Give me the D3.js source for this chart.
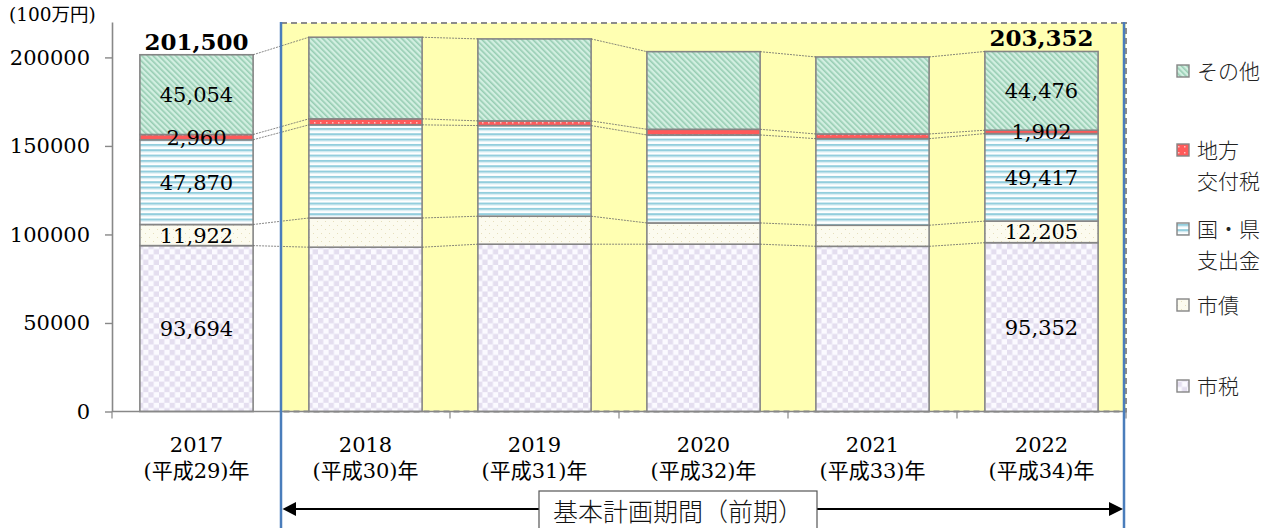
<!DOCTYPE html>
<html>
<head>
<meta charset="utf-8">
<script src="https://cdn.jsdelivr.net/npm/d3@7/dist/d3.min.js"></script>
<style>
  body { margin: 0; background: #fff; }
  svg { display: block; }
  .num { font-family: "DejaVu Serif", "Noto Sans CJK JP", serif; }
  .jp  { font-family: "Noto Sans CJK JP", sans-serif; }
</style>
</head>
<body>
<svg id="chart" width="1281" height="528"></svg>
<script>
// data (100万円)
var years   = ["2017", "2018", "2019", "2020", "2021", "2022"];
var eras    = ["(平成29)年", "(平成30)年", "(平成31)年", "(平成32)年", "(平成33)年", "(平成34)年"];
var shizei  = [93694, 92800, 94500, 94500, 93300, 95352];   // 市税
var shisai  = [11922, 16500, 15800, 12000, 11900, 12205];   // 市債
var kokken  = [47870, 52600, 51200, 49700, 48900, 49417];   // 国・県支出金
var kofuzei = [2960, 3400, 2650, 3200, 2650, 1902];         // 地方交付税
var sonota  = [45054, 46100, 46300, 43850, 43500, 44476];   // その他
var seriesKeys   = ["shizei", "shisai", "kokken", "kofuzei", "sonota"];
var legendNames  = [["市税"], ["市債"], ["国・県", "支出金"], ["地方", "交付税"], ["その他"]];
var yTicks       = [0, 50000, 100000, 150000, 200000];
var labelYears   = ["2017", "2022"];
var periodLabel  = "基本計画期間（前期）";
var unitLabel    = "(100万円)";

var table = years.map(function(y, i) {
  return { year: y, shizei: shizei[i], shisai: shisai[i], kokken: kokken[i], kofuzei: kofuzei[i], sonota: sonota[i] };
});

var svg = d3.select("#chart");

var x = d3.scaleBand().domain(years).range([112, 1126]).padding(0);
var y = d3.scaleLinear().domain([0, 220000]).range([411.5, 22]);
var bw = x.bandwidth() * 0.67;
var bOff = (x.bandwidth() - bw) / 2;

// ---- patterns
var defs = svg.append("defs");

var p = defs.append("pattern").attr("id", "pat-sonota").attr("patternUnits", "userSpaceOnUse")
  .attr("width", 4).attr("height", 4).attr("patternTransform", "rotate(-45)");
p.append("rect").attr("width", 4).attr("height", 4).attr("fill", "#d2efe1");
p.append("rect").attr("width", 1.6).attr("height", 4).attr("fill", "#97cdb3");

p = defs.append("pattern").attr("id", "pat-kofuzei").attr("patternUnits", "userSpaceOnUse")
  .attr("width", 6).attr("height", 6);
p.append("rect").attr("width", 6).attr("height", 6).attr("fill", "#ff5a5a");
p.append("rect").attr("x", 2).attr("y", 2).attr("width", 1.5).attr("height", 1.5).attr("fill", "#ffc0c0");

p = defs.append("pattern").attr("id", "pat-kokken").attr("patternUnits", "userSpaceOnUse")
  .attr("width", 6).attr("height", 5.33);
p.append("rect").attr("width", 6).attr("height", 5.33).attr("fill", "#ffffff");
p.append("rect").attr("y", 0).attr("width", 6).attr("height", 2).attr("fill", "#93cedd");
p.append("rect").attr("y", 2).attr("width", 6).attr("height", 1).attr("fill", "#c8e6ee");

p = defs.append("pattern").attr("id", "pat-shisai").attr("patternUnits", "userSpaceOnUse")
  .attr("width", 8).attr("height", 8);
p.append("rect").attr("width", 8).attr("height", 8).attr("fill", "#fcfbef");
p.append("rect").attr("x", 1).attr("y", 1).attr("width", 1).attr("height", 1).attr("fill", "#e6dfbd");
p.append("rect").attr("x", 5).attr("y", 5).attr("width", 1).attr("height", 1).attr("fill", "#e6dfbd");

p = defs.append("pattern").attr("id", "pat-shizei").attr("patternUnits", "userSpaceOnUse")
  .attr("width", 10.6).attr("height", 10.6);
p.append("rect").attr("width", 10.6).attr("height", 10.6).attr("fill", "#fbfaff");
p.append("rect").attr("width", 5.3).attr("height", 5.3).attr("fill", "#e4deef");
p.append("rect").attr("x", 5.3).attr("y", 5.3).attr("width", 5.3).attr("height", 5.3).attr("fill", "#e4deef");

// ---- highlighted period (yellow)
var px0 = x("2018"), px1 = x("2022") + x.bandwidth();
svg.append("rect")
  .attr("x", px0).attr("y", y.range()[1] + 1)
  .attr("width", px1 - px0).attr("height", y(0) - y.range()[1] - 1)
  .attr("fill", "#ffffb2")
  .attr("stroke", "#8c8c8c").attr("stroke-width", 2).attr("stroke-dasharray", "6,4");

// ---- stacked bars
var stack = d3.stack().keys(seriesKeys)(table);

var layers = svg.append("g").selectAll("g").data(stack).enter().append("g")
  .attr("fill", function(d) { return "url(#pat-" + d.key + ")"; });

layers.selectAll("rect").data(function(d) { return d; }).enter().append("rect")
  .attr("x", function(d) { return x(d.data.year) + bOff; })
  .attr("y", function(d) { return y(d[1]); })
  .attr("width", bw)
  .attr("height", function(d) { return y(d[0]) - y(d[1]); })
  .attr("stroke", "#858585").attr("stroke-width", 1.6);

// series lines between bars
var conn = svg.append("g").attr("stroke", "#6a6a6a").attr("stroke-width", 0.8)
  .attr("stroke-dasharray", "2,1").attr("fill", "none");
stack.forEach(function(s) {
  for (var i = 0; i < s.length - 1; i++) {
    conn.append("line")
      .attr("x1", x(years[i]) + bOff + bw).attr("y1", y(s[i][1]))
      .attr("x2", x(years[i + 1]) + bOff).attr("y2", y(s[i + 1][1]));
  }
});

// value labels
var fmt = d3.format(",");
stack.forEach(function(s) {
  s.forEach(function(d) {
    if (labelYears.indexOf(d.data.year) < 0) return;
    svg.append("text").attr("class", "num")
      .attr("x", x(d.data.year) + x.bandwidth() / 2)
      .attr("y", (y(d[0]) + y(d[1])) / 2)
      .attr("dy", "0.36em")
      .attr("text-anchor", "middle")
      .attr("font-size", 21).attr("fill", "#000")
      .text(fmt(d.data[s.key]));
  });
});

// totals
var topLayer = stack[stack.length - 1];
topLayer.forEach(function(d) {
  if (labelYears.indexOf(d.data.year) < 0) return;
  svg.append("text").attr("class", "num")
    .attr("x", x(d.data.year) + x.bandwidth() / 2)
    .attr("y", y(d[1]) - 5)
    .attr("text-anchor", "middle")
    .attr("font-size", 23).attr("font-weight", "bold").attr("fill", "#000")
    .text(fmt(d[1]));
});

// ---- y axis
var yAxis = svg.append("g").attr("transform", "translate(112,0)")
  .call(d3.axisLeft(y).tickValues(yTicks).tickFormat(d3.format("d")).tickSize(7).tickSizeOuter(0).tickPadding(15));
yAxis.select(".domain").attr("stroke", "#888").attr("stroke-width", 1.6);
yAxis.selectAll(".tick line").attr("stroke", "#888").attr("stroke-width", 1.4);
yAxis.selectAll(".tick text").attr("class", "num").attr("font-size", 21).attr("fill", "#000");

svg.append("text").attr("class", "num")
  .attr("x", 9).attr("y", 21)
  .attr("font-size", 18.5).attr("fill", "#000")
  .text(unitLabel);

// ---- x axis
var xg = svg.append("g").attr("stroke", "#888").attr("stroke-width", 1.6);
xg.append("line").attr("x1", 112).attr("x2", 1126).attr("y1", y(0)).attr("y2", y(0));
years.concat(["end"]).forEach(function(yr, i) {
  var xx = i < years.length ? x(yr) : 1126;
  xg.append("line").attr("x1", xx).attr("x2", xx).attr("y1", y(0)).attr("y2", y(0) + 7)
    .attr("stroke-width", 1.2);
});

var xl = svg.append("g").attr("class", "num").attr("font-size", 21).attr("fill", "#000").attr("text-anchor", "middle");
years.forEach(function(yr, i) {
  var cx = x(yr) + x.bandwidth() / 2;
  xl.append("text").attr("x", cx).attr("y", 452).text(yr);
  xl.append("text").attr("x", cx).attr("y", 478).text(eras[i]);
});

// ---- period markers
svg.append("g").attr("stroke", "#4a7dbb").attr("stroke-width", 2.5)
  .selectAll("line").data([px0, px1 - 2]).enter().append("line")
  .attr("x1", function(d) { return d; }).attr("x2", function(d) { return d; })
  .attr("y1", y.range()[1]).attr("y2", 528);

var ay = 509;
svg.append("line").attr("x1", px0 + 8).attr("x2", px1 - 10).attr("y1", ay).attr("y2", ay)
  .attr("stroke", "#000").attr("stroke-width", 2);
svg.append("path").attr("fill", "#000")
  .attr("d", "M" + (px0 + 1.5) + "," + ay + "L" + (px0 + 15) + "," + (ay - 7) + "L" + (px0 + 15) + "," + (ay + 7) + "Z");
svg.append("path").attr("fill", "#000")
  .attr("d", "M" + (px1 - 3) + "," + ay + "L" + (px1 - 17) + "," + (ay - 7) + "L" + (px1 - 17) + "," + (ay + 7) + "Z");

svg.append("rect").attr("x", 539).attr("y", 491).attr("width", 278).attr("height", 50)
  .attr("fill", "#fff").attr("stroke", "#555").attr("stroke-width", 1.2);
svg.append("text").attr("class", "jp")
  .attr("x", 678).attr("y", 512).attr("dy", "0.36em")
  .attr("text-anchor", "middle").attr("font-size", 25).attr("font-weight", 300).attr("fill", "#111")
  .text(periodLabel);

// ---- legend (top to bottom: reverse stack order)
var legendY = [71, 150, 229, 305, 386];
var lg = svg.append("g");
seriesKeys.slice().reverse().forEach(function(k, i) {
  var names = legendNames[seriesKeys.length - 1 - i];
  var ly = legendY[i];
  lg.append("rect").attr("x", 1177).attr("y", ly - 6).attr("width", 12).attr("height", 12)
    .attr("fill", "url(#pat-" + k + ")").attr("stroke", "#858585").attr("stroke-width", 1.4);
  names.forEach(function(n, j) {
    lg.append("text").attr("class", "jp")
      .attr("x", 1197).attr("y", ly + j * 31).attr("dy", "0.36em")
      .attr("font-size", 21).attr("font-weight", 300).attr("fill", "#222")
      .text(n);
  });
});
</script>
</body>
</html>
